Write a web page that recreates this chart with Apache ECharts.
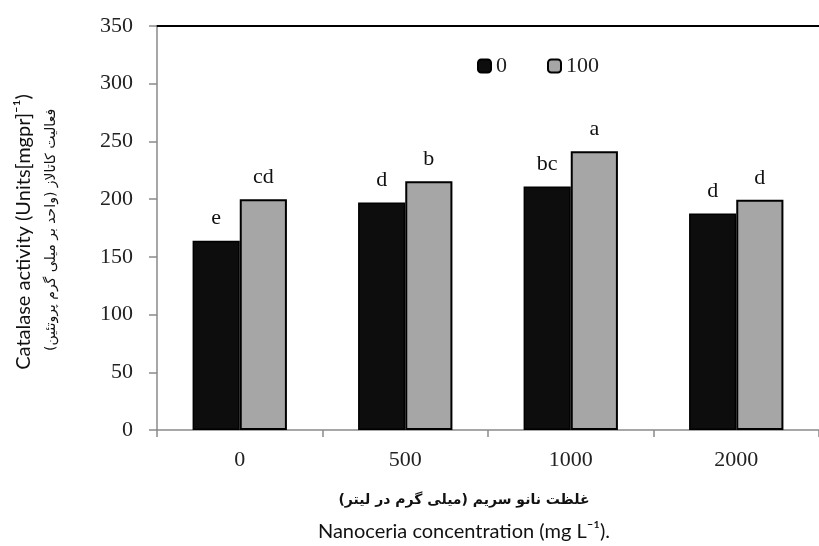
<!DOCTYPE html>
<html>
<head>
<meta charset="utf-8">
<script src="https://cdn.jsdelivr.net/npm/echarts@6/dist/echarts.min.js"></script>
<style>
html,body{margin:0;padding:0;background:#fff;}
#chart{width:819px;height:546px;}
</style>
</head>
<body>
<div id="chart"></div>
<script>
const categories = ['0', '500', '1000', '2000'];
const seriesNames = ['0', '100'];
const values0 = [164, 197, 211, 187.5];
const values100 = [200, 215.5, 241.5, 199.5];
const letters0 = ['e', 'd', 'bc', 'd'];
const letters100 = ['cd', 'b', 'a', 'd'];
const yMin = 0, yMax = 350, yInterval = 50;

const yTitleEn = 'Catalase activity (Units[mgpr]⁻¹)';
const yTitleFa = 'فعالیت کاتالاز (واحد بر میلی گرم پروتئین)';
const xTitleFa = 'غلظت نانو سریم (میلی گرم در لیتر)';
const xTitleEn = 'Nanoceria concentration (mg L⁻¹).';

const serif = '"Liberation Serif", "DejaVu Serif", serif';
const chart = echarts.init(document.getElementById('chart'));

function barLabel(letters) {
  return {
    show: true,
    position: 'top',
    distance: 11,
    fontFamily: serif,
    fontSize: 22,
    color: '#111',
    formatter: p => letters[p.dataIndex]
  };
}

chart.setOption({
  animation: false,
  backgroundColor: '#fff',
  grid: { left: 157, top: 26, width: 673, height: 404, containLabel: false },
  legend: {
    data: seriesNames,
    left: 472,
    top: 50,
    itemWidth: 13,
    itemHeight: 13,
    itemGap: 40,
    textStyle: { fontFamily: serif, fontSize: 22, color: '#222' },
    selectedMode: false
  },
  xAxis: [{
    type: 'category',
    data: categories,
    axisLine: { lineStyle: { color: '#8a8a8a', width: 1.5 } },
    axisTick: { show: true, length: 7, lineStyle: { color: '#8a8a8a', width: 1.5 } },
    axisLabel: { fontFamily: serif, fontSize: 22, color: '#222', margin: 19 }
  }, {
    type: 'category',
    data: categories,
    position: 'top',
    axisLine: { lineStyle: { color: '#000', width: 2 } },
    axisTick: { show: false },
    axisLabel: { show: false }
  }],
  yAxis: {
    type: 'value',
    min: yMin, max: yMax, interval: yInterval,
    axisLine: { show: true, lineStyle: { color: '#8a8a8a', width: 1.5 } },
    axisTick: { show: true, length: 8, lineStyle: { color: '#8a8a8a', width: 1.5 } },
    splitLine: { show: false },
    axisLabel: { fontFamily: serif, fontSize: 22, color: '#222', margin: 24 }
  },
  series: [{
    name: seriesNames[0],
    type: 'bar',
    data: values0,
    barGap: '0%',
    barCategoryGap: '43%',
    itemStyle: { color: '#0d0d0d', borderColor: '#000', borderWidth: 1.5 },
    label: barLabel(letters0)
  }, {
    name: seriesNames[1],
    type: 'bar',
    data: values100,
    barGap: '0%',
    barCategoryGap: '43%',
    itemStyle: { color: '#a6a6a6', borderColor: '#000', borderWidth: 2 },
    label: barLabel(letters100)
  }],
  graphic: [{
    type: 'text',
    x: 24, y: 232,
    rotation: Math.PI / 2,
    style: {
      text: yTitleEn,
      font: '20px Lato, "Open Sans", sans-serif',
      fill: '#111',
      align: 'center',
      verticalAlign: 'middle'
    }
  }, {
    type: 'text',
    x: 51, y: 230,
    rotation: Math.PI / 2,
    style: {
      text: yTitleFa,
      font: '14px "DejaVu Sans", sans-serif',
      fill: '#111',
      align: 'center',
      verticalAlign: 'middle'
    }
  }, {
    type: 'text',
    x: 464, y: 500,
    style: {
      text: xTitleFa,
      font: 'bold 14px "DejaVu Sans", sans-serif',
      fill: '#111',
      align: 'center',
      verticalAlign: 'middle'
    }
  }, {
    type: 'text',
    x: 464, y: 532,
    style: {
      text: xTitleEn,
      font: '20px Lato, "Open Sans", sans-serif',
      fill: '#111',
      align: 'center',
      verticalAlign: 'middle'
    }
  }]
});
</script>
</body>
</html>
